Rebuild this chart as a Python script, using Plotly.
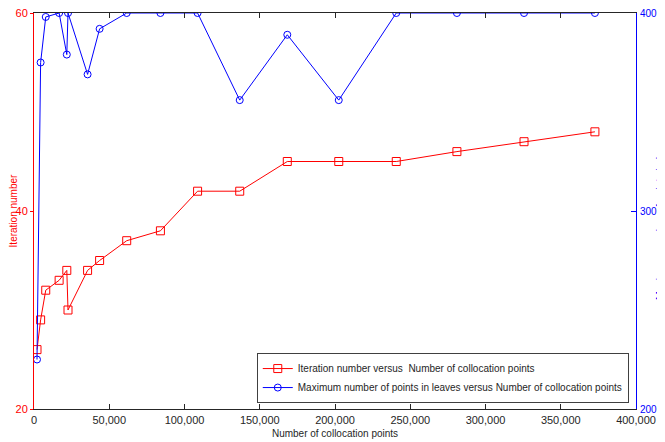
import plotly.graph_objects as go

collocation_points = [2000, 4400, 7800, 16700, 21800, 22600, 35600, 43600, 61600, 84000,
                      108700, 136700, 168300, 202500, 240700, 281000, 325600, 372700]
iteration_number = [26, 29, 32, 33, 34, 30, 34, 35, 37, 38, 42, 42, 45, 45, 45, 46, 47, 48]
max_points_in_leaves = [225, 375, 398, 400, 379, 400, 369, 392, 400, 400, 400, 356, 389, 356,
                        400, 400, 400, 400]

x_ticks = [0, 50000, 100000, 150000, 200000, 250000, 300000, 350000, 400000]
left_ticks = [20, 40, 60]
right_ticks = [200, 300, 400]
right_title = "Maximum number of points in leaves"

RED = "#ff0000"
BLUE = "#0000ff"
FONT = "Liberation Sans, Arial, sans-serif"

fig = go.Figure()
fig.add_trace(go.Scatter(
    x=collocation_points, y=iteration_number, mode="lines+markers",
    name="Iteration number versus  Number of collocation points",
    line=dict(color=RED, width=1),
    marker=dict(symbol="square-open", size=8, color=RED, line=dict(width=1)),
    yaxis="y"))
fig.add_trace(go.Scatter(
    x=collocation_points, y=max_points_in_leaves, mode="lines+markers",
    name="Maximum number of points in leaves versus Number of collocation points",
    line=dict(color=BLUE, width=1),
    marker=dict(symbol="circle-open", size=7, color=BLUE, line=dict(width=1)),
    yaxis="y2"))

# the page body has an 8px margin, so margins are offset to place the plot area
fig.update_layout(
    width=665, height=442,
    margin=dict(l=26, r=37, t=5, b=41),
    paper_bgcolor="white", plot_bgcolor="white",
    font=dict(family=FONT, size=10, color="#262626"),
    showlegend=True,
    legend=dict(x=0.988, xanchor="right", y=0.015, yanchor="bottom",
                bgcolor="white", bordercolor="#404040", borderwidth=1,
                font=dict(size=10, color="#262626")),
    xaxis=dict(range=[0, 400000], tickvals=x_ticks, tickformat=",",
               automargin=False,
               showgrid=False, zeroline=False,
               showline=True, linecolor="#262626", linewidth=1, mirror="ticks",
               ticks="inside", ticklen=5, tickcolor="#262626",
               ticklabelstandoff=1, ticklabeloverflow="allow",
               tickfont=dict(size=11, color="#262626"),
               title=dict(text="Number of collocation points", font=dict(size=10, color="#262626"),
                          standoff=4)),
    yaxis=dict(range=[20, 60], tickvals=left_ticks, showgrid=False, zeroline=False,
               automargin=False,
               showline=True, linecolor=RED, linewidth=1,
               ticks="outside", ticklen=3, tickcolor=RED,
               ticklabeloverflow="allow",
               tickfont=dict(size=11, color=RED),
               title=dict(text="Iteration number", font=dict(size=10, color=RED), standoff=3)),
    yaxis2=dict(range=[200, 400], tickvals=right_ticks, overlaying="y", side="right",
                automargin=False,
                showgrid=False, zeroline=False,
                showline=True, linecolor=BLUE, linewidth=1,
                ticks="inside", ticklen=5, tickcolor=BLUE,
                ticklabeloverflow="allow", ticklabelstandoff=1,
                tickfont=dict(size=10, color=BLUE)),
    annotations=[dict(text=right_title, xref="paper", yref="paper",
                      x=1.0399, y=0.49, xanchor="center", yanchor="middle",
                      textangle=-90, showarrow=False,
                      font=dict(size=10.5, color=BLUE, family=FONT))],
)

fig.write_html("out.html")
